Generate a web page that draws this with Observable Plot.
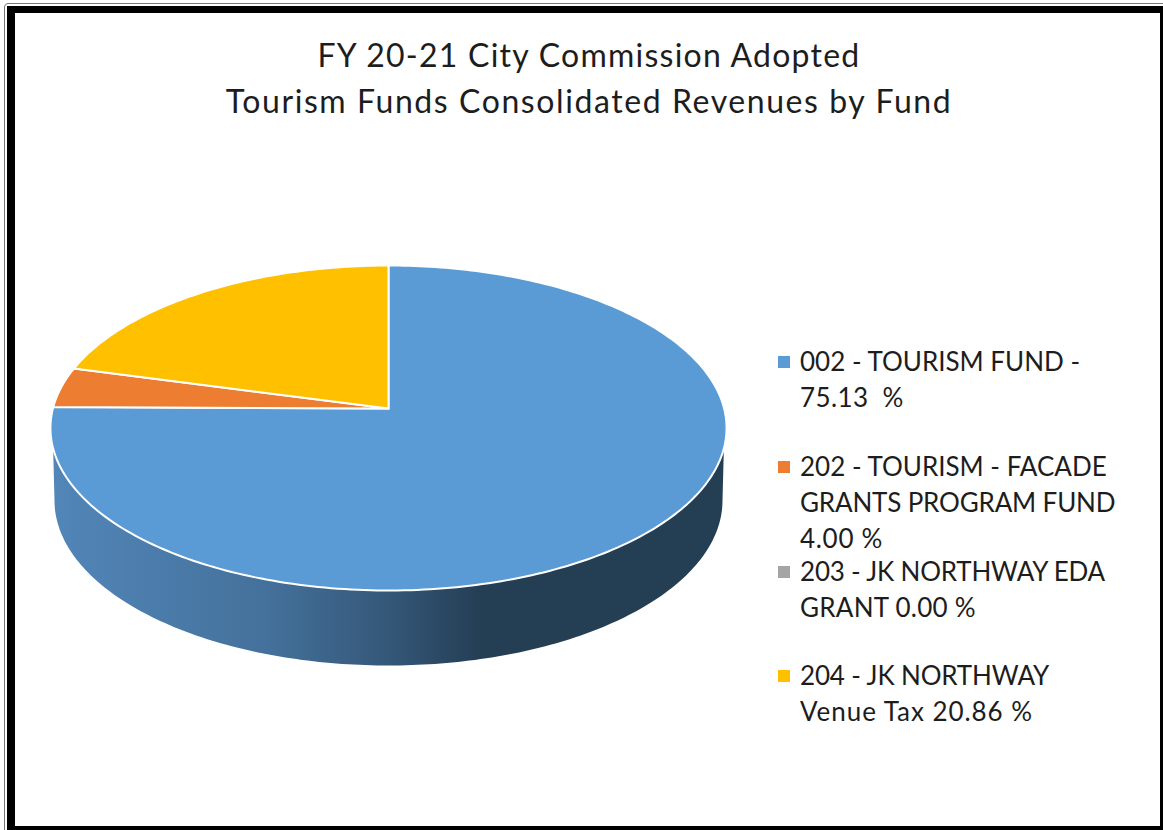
<!DOCTYPE html>
<html>
<head>
<meta charset="utf-8">
<script src="https://cdn.jsdelivr.net/npm/d3@7"></script>
<script src="https://cdn.jsdelivr.net/npm/@observablehq/plot@0.6"></script>
<style>
html,body{margin:0;padding:0;background:#fff;}
#page{position:relative;width:1163px;height:830px;overflow:hidden;background:#fff;font-family:Lato,sans-serif;color:#1d1d1d;}
#frameOuter{position:absolute;left:4px;top:3px;width:1170px;height:840px;border:1px solid #777;border-radius:4px;box-sizing:border-box;}
#frame{position:absolute;left:7px;top:6px;right:0;bottom:0;border-style:solid;border-color:#000;border-width:7px 3px 4px 8px;box-sizing:border-box;}
#title{position:absolute;left:0;top:32px;width:1178px;margin:0;text-align:center;font-weight:400;font-size:32px;line-height:46px;}
#title span{display:block;}
#chart{position:absolute;left:28px;top:240px;}
#chart svg{display:block;overflow:visible;}
#legend{position:absolute;left:778px;top:0;width:380px;}
.entry{position:absolute;left:0;font-size:26px;line-height:36px;white-space:pre;}
.sw{position:absolute;left:0;top:13px;width:12px;height:12px;}
.lab{position:absolute;left:22px;top:0;}
.lab span{display:block;}
</style>
</head>
<body>
<div id="page">
  <div id="frameOuter"></div>
  <div id="frame"></div>
  <h1 id="title"></h1>
  <div id="chart"></div>
  <div id="legend"></div>
</div>
<script>
const titleLines = ["FY 20-21 City Commission Adopted", "Tourism Funds Consolidated Revenues by Fund"];
const titleSpacing = [1.25, 1.58];
const categories = ["002 - TOURISM FUND", "202 - TOURISM - FACADE GRANTS PROGRAM FUND", "203 - JK NORTHWAY EDA GRANT", "204 - JK NORTHWAY Venue Tax"];
const shares = [75.13, 4.00, 0.00, 20.86];
const colors = ["#5B9BD5", "#ED7D31", "#A5A5A5", "#FFC000"];
const legendLines = [
  ["002 - TOURISM FUND -", "75.13  %"],
  ["202 - TOURISM - FACADE", "GRANTS PROGRAM FUND", "4.00 %"],
  ["203 - JK NORTHWAY EDA", "GRANT 0.00 %"],
  ["204 - JK NORTHWAY", "Venue Tax 20.86 %"]
];
const legendSpacing = [
  [0, 0.4],
  [0, -0.16, 0.7],
  [-0.2, 0.25],
  [-0.15, 0.95]
];
const legendTops = [343, 448, 553, 657];

// Perspective projection of the pie's top face (apex-relative pixels, y down)
const halfWidth = 335.6, tiltA = -111.2, tiltC = 0.12, apexDrop = 408;
function face(deg) {
  const r = deg * Math.PI / 180, u = Math.sin(r), v = Math.cos(r), w = 1 + tiltC * v;
  return {x: halfWidth * u / w, y: (tiltA * v + apexDrop) / w - apexDrop};
}

// Slices from cumulative shares
const total = d3.sum(shares);
const slicePts = [];
let cum = 0;
categories.forEach((cat, i) => {
  const a0 = cum / total * 360, a1 = (cum + shares[i]) / total * 360;
  cum += shares[i];
  if (shares[i] === 0) return;
  slicePts.push({x: 0, y: 0, cat});
  const n = Math.max(2, Math.ceil(a1 - a0));
  for (let k = 0; k <= n; k++) slicePts.push({...face(a0 + (a1 - a0) * k / n), cat});
  slicePts.push({x: 0, y: 0, cat});
});

// Extruded side wall: front arc of the face, then the base ellipse back again
const base = {rx: 334, ry: 165, cy: 92};
const frontArc = d3.range(90, 271, 1).map(face).filter(p => p.y >= 39);
const baseArc = d3.range(180, -1, -1).map(t => {
  const r = t * Math.PI / 180;
  return {x: base.rx * Math.cos(r), y: base.cy + base.ry * Math.sin(r)};
});
const wall = [...frontArc, ...baseArc, frontArc[0]];

const gradient = () => {
  const defs = d3.create("svg:defs");
  const g = defs.append("linearGradient").attr("id", "wallShade")
    .attr("gradientUnits", "userSpaceOnUse")
    .attr("x1", 22).attr("x2", 452).attr("y1", 0).attr("y2", 0);
  [[0, "#5286B9"], [0.5, "#44719B"], [0.78, "#355879"], [1, "#243E54"]].forEach(([o, c]) =>
    g.append("stop").attr("offset", o).attr("stop-color", c));
  return defs.node();
};

const chart = Plot.plot({
  width: 720, height: 440,
  margin: 0,
  x: {domain: [-360, 360], range: [0, 720], axis: null},
  y: {domain: [-168, 272], range: [0, 440], axis: null},
  color: {domain: categories, range: colors},
  marks: [
    gradient,
    Plot.line(wall, {x: "x", y: "y", fill: "url(#wallShade)", stroke: "none"}),
    Plot.line(slicePts, {x: "x", y: "y", z: "cat", fill: "cat", stroke: "#fff", strokeWidth: 2, strokeLinejoin: "round"})
  ]
});
document.getElementById("chart").append(chart);

const titleEl = document.getElementById("title");
titleLines.forEach((t, i) => {
  const s = document.createElement("span");
  s.textContent = t;
  s.style.letterSpacing = titleSpacing[i] + "px";
  titleEl.append(s);
});
const legend = document.getElementById("legend");
categories.forEach((cat, i) => {
  const e = document.createElement("div");
  e.className = "entry";
  e.style.top = legendTops[i] + "px";
  const sw = document.createElement("div");
  sw.className = "sw"; sw.style.background = colors[i];
  const lab = document.createElement("div");
  lab.className = "lab";
  legendLines[i].forEach((line, j) => {
    const s = document.createElement("span");
    s.textContent = line;
    s.style.letterSpacing = legendSpacing[i][j] + "px";
    lab.append(s);
  });
  e.append(sw, lab);
  legend.append(e);
});
</script>
</body>
</html>
